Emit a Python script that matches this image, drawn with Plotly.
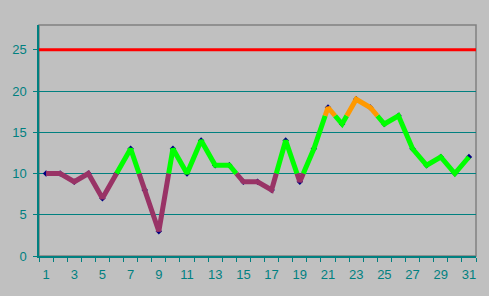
import plotly.graph_objects as go

days = list(range(1, 32))
values = [10, 10, 9, 10, 7, 10, 13, 8, 3, 13, 10, 14, 11, 11, 9, 9, 8, 14, 9, 13,
          18, 16, 19, 18, 16, 17, 13, 11, 12, 10, 12]
low_limit = 10
high_limit = 17
max_line = 25
y_ticks = [0, 5, 10, 15, 20, 25]
x_tick_labels = [d for d in days if d % 2 == 1]

colors = {"low": "#993366", "mid": "#00ff00", "high": "#ff9900"}


def classify(v):
    if v <= low_limit:
        return "low"
    if v > high_limit:
        return "high"
    return "mid"


# split each segment at threshold crossings, then group into colour runs
pieces = []
for i in range(len(days) - 1):
    x0, y0, x1, y1 = days[i], values[i], days[i + 1], values[i + 1]
    cuts = [0.0, 1.0]
    for t in (low_limit, high_limit):
        if (y0 - t) * (y1 - t) < 0:
            cuts.append((t - y0) / (y1 - y0))
    cuts.sort()
    for a, b in zip(cuts[:-1], cuts[1:]):
        xa, ya = x0 + a * (x1 - x0), y0 + a * (y1 - y0)
        xb, yb = x0 + b * (x1 - x0), y0 + b * (y1 - y0)
        pieces.append((classify((ya + yb) / 2), xa, ya, xb, yb))

runs = []
for c, xa, ya, xb, yb in pieces:
    if runs and runs[-1][0] == c:
        runs[-1][1].append(xb)
        runs[-1][2].append(yb)
    else:
        runs.append([c, [xa, xb], [ya, yb]])

fig = go.Figure()
fig.add_trace(go.Scatter(x=days, y=values, mode="markers",
                         marker=dict(symbol="diamond", size=5, color="#000080"),
                         showlegend=False, hoverinfo="skip"))
for key in ("low", "mid", "high"):
    xs, ys = [], []
    for c, rx, ry in runs:
        if c == key:
            xs += rx + [None]
            ys += ry + [None]
    fig.add_trace(go.Scatter(x=xs, y=ys, mode="lines",
                             line=dict(color=colors[key], width=5),
                             showlegend=False, connectgaps=False))

fig.add_hline(y=max_line, line=dict(color="#ff0000", width=3), layer="above")

fig.add_shape(type="rect", xref="paper", yref="paper", x0=0, y0=0, x1=1, y1=1,
              line=dict(color="#808080", width=1.5), layer="below")

axis_font = dict(family="Liberation Sans, Arial, sans-serif", size=13, color="#008080")
fig.update_layout(
    width=489, height=296,
    margin=dict(l=39, r=13, t=25, b=40),
    paper_bgcolor="#c0c0c0", plot_bgcolor="#c0c0c0",
    showlegend=False,
    xaxis=dict(range=[0.5, 31.5], tickmode="array", tickvals=x_tick_labels,
               ticktext=[str(d) for d in x_tick_labels], ticks="",
               showgrid=False, zeroline=False, showline=True,
               linecolor="#008080", linewidth=1.5, tickfont=axis_font,
               ticklabelstandoff=6,
               minor=dict(tickmode="linear", tick0=0.5, dtick=1, ticks="outside",
                          ticklen=4, tickcolor="#008080", tickwidth=1, showgrid=False)),
    yaxis=dict(range=[0, 28], tickmode="array", tickvals=y_ticks, ticks="outside",
               ticklen=4, tickcolor="#008080", tickwidth=1,
               showgrid=True, gridcolor="#008080", gridwidth=1,
               zeroline=False, showline=True, linecolor="#008080", linewidth=1.5,
               tickfont=axis_font, ticklabelstandoff=4),
)

fig.write_html("out.html")
